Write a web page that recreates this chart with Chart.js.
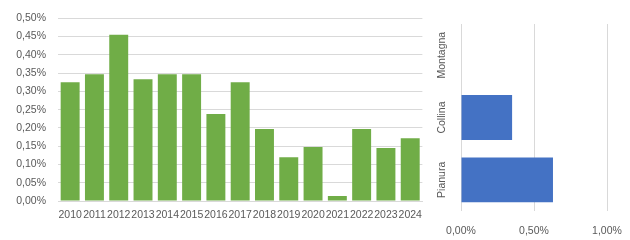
<!DOCTYPE html>
<html>
<head>
<meta charset="utf-8">
<script src="https://cdn.jsdelivr.net/npm/chart.js@4.4.0/dist/chart.umd.min.js"></script>
<style>
  html, body { margin: 0; padding: 0; background: #fff; }
  #wrap { position: relative; width: 630px; height: 240px; }
  #boxAnni { position: absolute; left: 0; top: 0; width: 430px; height: 240px; }
  #boxZone { position: absolute; left: 430px; top: 0; width: 200px; height: 240px; }
</style>
</head>
<body>
<div id="wrap">
  <div id="boxAnni"><canvas id="graficoAnni"></canvas></div>
  <div id="boxZone"><canvas id="graficoZone"></canvas></div>
</div>
<script>
var anni = ['2010', '2011', '2012', '2013', '2014', '2015', '2016', '2017', '2018', '2019', '2020', '2021', '2022', '2023', '2024'];
var valoriAnni = [0.325, 0.347, 0.455, 0.333, 0.347, 0.347, 0.238, 0.325, 0.197, 0.120, 0.148, 0.014, 0.197, 0.145, 0.172];
var zone = ['Pianura', 'Collina', 'Montagna'];
var valoriZone = [0.63, 0.35, 0];

var grigioTesto = '#595959';
var grigioGriglia = '#d9d9d9';
var font = { family: 'Liberation Sans', size: 10.5 };

function percentuale(v) {
	return Number(v).toFixed(2).replace('.', ',') + '%';
}

Chart.defaults.animation = false;
Chart.defaults.color = grigioTesto;

new Chart(document.getElementById('graficoAnni').getContext('2d'), {
	type: 'bar',
	data: {
		labels: anni,
		datasets: [{
			data: valoriAnni,
			backgroundColor: '#70ad47',
			barPercentage: 0.78,
			categoryPercentage: 1
		}]
	},
	options: {
		responsive: true,
		maintainAspectRatio: false,
		layout: { padding: { top: 12, right: 3, left: 0, bottom: 0 } },
		plugins: { legend: { display: false }, tooltip: { enabled: false } },
		scales: {
			x: {
				grid: { display: false, drawTicks: false },
				border: { display: true, color: grigioGriglia },
				ticks: { font: font, autoSkip: false, maxRotation: 0, padding: 8 },
				afterFit: function(s) { s.height = 39; }
			},
			y: {
				min: 0,
				max: 0.5,
				grid: { color: grigioGriglia, drawTicks: false },
				border: { display: false },
				ticks: { font: font, stepSize: 0.05, padding: 12, callback: percentuale },
				afterFit: function(s) { s.width = 58; }
			}
		}
	}
});

new Chart(document.getElementById('graficoZone').getContext('2d'), {
	type: 'bar',
	data: {
		labels: zone,
		datasets: [{
			data: valoriZone,
			backgroundColor: '#4472c4',
			barPercentage: 0.72,
			categoryPercentage: 1
		}]
	},
	options: {
		indexAxis: 'y',
		responsive: true,
		maintainAspectRatio: false,
		layout: { padding: { top: 24, right: 23, left: 0, bottom: 0 } },
		plugins: { legend: { display: false }, tooltip: { enabled: false } },
		scales: {
			x: {
				min: 0,
				max: 1,
				grid: { color: grigioGriglia, drawTicks: true, tickLength: 14, tickColor: 'rgba(0,0,0,0)' },
				border: { display: false },
				ticks: { font: font, stepSize: 0.5, padding: 0, callback: percentuale },
				afterFit: function(s) { s.height = 29; }
			},
			y: {
				reverse: true,
				grid: { display: false, drawTicks: false },
				border: { display: false },
				ticks: { font: font, minRotation: 90, maxRotation: 90, crossAlign: 'center', padding: -4 },
				afterFit: function(s) { s.width = 31; }
			}
		}
	}
});
</script>
</body>
</html>
